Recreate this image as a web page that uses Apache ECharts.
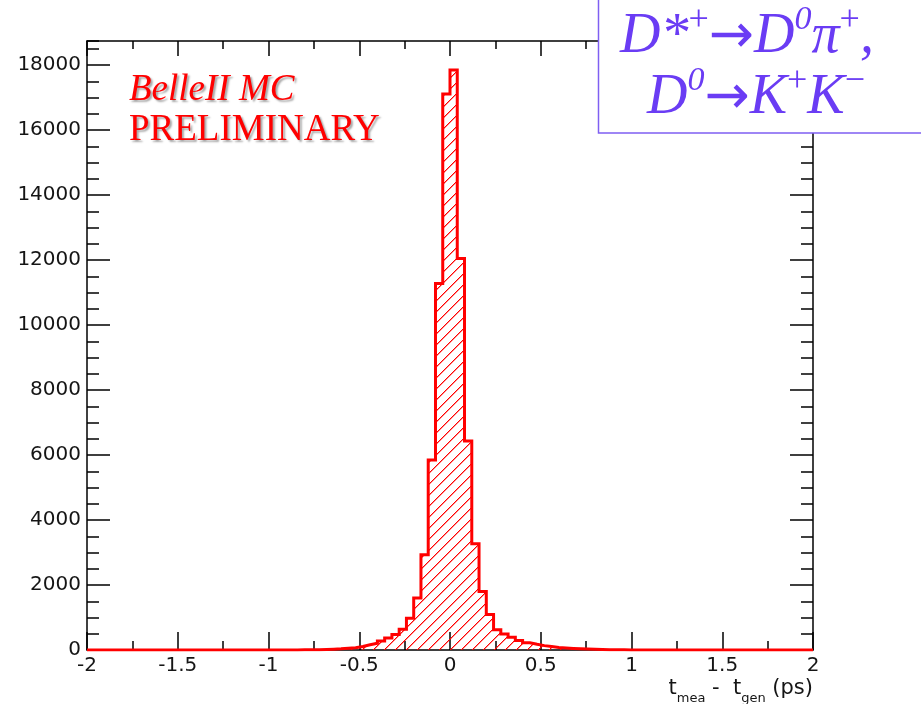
<!DOCTYPE html>
<html><head><meta charset="utf-8">
<script src="https://cdn.jsdelivr.net/npm/echarts@6/dist/echarts.min.js"></script>
<style>html,body{margin:0;padding:0;background:#fff}#chart{width:921px;height:704px}</style>
</head><body><div id="chart"></div>
<script>
// ---- data ----
const binLow = -2;
const binWidth = 0.04;
const counts = [
  0,0,0,0,0,0,0,0,0,0,
  0,0,0,0,0,0,0,0,0,0,
  0,0,0,0,0,0,0,0,2,4,
  7,11,17,25,36,52,72,110,160,210,
  280,370,480,640,980,1600,2930,5850,11280,17110,
  17850,12050,6430,3270,1800,1090,620,490,390,290,
  225,175,135,105,80,62,48,36,27,20,
  14,10,7,5,3,2,0,0,0,0,
  0,0,0,0,0,0,0,0,0,0,
  0,0,0,0,0,0,0,0,0,0
];
const xMin = -2, xMax = 2, xMajor = 0.5, xMinor = 0.25;
const yMin = 0, yMax = 18740, yMajor = 2000, yMinor = 500;
const xTitle = '{t|t}{s|mea}{t| -  t}{s|gen}{t| (ps)}';
const label1 = 'BelleII MC';
const label2 = 'PRELIMINARY';
const decayLine1 = '{m|D}{m|*}{sup|+}{a|\u2192}{m|D}{sup0|0}{m|\u03c0}{sup|+}{m|,}';
const decayLine2 = '{m|D}{sup0|0}{a|\u2192}{m|K}{sup|+}{m|K}{sup|\u2212}';

// ---- build ----
const histData = counts.map((v, i) => [Math.round((binLow + i * binWidth) * 100) / 100, v]);
histData.push([xMax, counts[counts.length - 1]]);

const hatch = document.createElement('canvas');
const hs = 11;
hatch.width = hs; hatch.height = hs;
(function () {
  const c = hatch.getContext('2d');
  c.fillStyle = 'rgba(255,0,0,0.45)';
  for (let i = 0; i < hs; i++) c.fillRect(i, (hs - i) % hs, 1, 1);
  c.fillStyle = '#ff0000';
  for (let i = 0; i < hs; i++) c.fillRect(i, hs - 1 - i, 1, 1);
})();

const black = '#000';
const labelFont = { fontFamily: 'DejaVu Sans', fontSize: 20, color: '#151515' };

function xAx(grid, pos, interval, tickLen, showLine, showLabel, extra) {
  return Object.assign({
    type: 'value', gridIndex: grid, position: pos, min: xMin, max: xMax, interval: interval,
    axisLine: { show: showLine, onZero: false, lineStyle: { color: black, width: 1.5 } },
    axisTick: { show: true, inside: true, length: tickLen, lineStyle: { color: black, width: 1.5 } },
    axisLabel: Object.assign({ show: showLabel, margin: 6, formatter: v => String(v) }, labelFont),
    splitLine: { show: false }
  }, extra || {});
}
function yAx(grid, pos, interval, tickLen, showLine, showLabel) {
  return {
    type: 'value', gridIndex: grid, position: pos, min: yMin, max: yMax, interval: interval,
    axisLine: { show: showLine, onZero: false, lineStyle: { color: black, width: 1.5 } },
    axisTick: { show: true, inside: true, length: tickLen, lineStyle: { color: black, width: 1.5 } },
    axisLabel: Object.assign({ show: showLabel, margin: 6, showMaxLabel: false, formatter: v => String(v) }, labelFont),
    splitLine: { show: false }
  };
}

const gridBox = { left: 87, right: 108, top: 41, bottom: 54, containLabel: false, outerBoundsMode: 'none' };

const option = {
  animation: false,
  backgroundColor: '#fff',
  grid: [Object.assign({}, gridBox), Object.assign({}, gridBox)],
  xAxis: [
    xAx(0, 'bottom', xMajor, 18, true, true, {
      name: xTitle, nameLocation: 'end', nameGap: 0,
      nameTextStyle: {
        align: 'right', verticalAlign: 'top', padding: [28, 0, 0, 0],
        rich: {
          t: { fontFamily: 'DejaVu Sans', fontSize: 21, color: '#151515', lineHeight: 24, verticalAlign: 'top' },
          s: { fontFamily: 'DejaVu Sans', fontSize: 13, color: '#151515', lineHeight: 14, verticalAlign: 'top', padding: [14, 0, 0, 0] }
        }
      }
    }),
    xAx(0, 'top', xMajor, 15, true, false),
    xAx(1, 'bottom', xMinor, 9, false, false),
    xAx(1, 'top', xMinor, 8, false, false)
  ],
  yAxis: [
    yAx(0, 'left', yMajor, 23, true, true),
    yAx(0, 'right', yMajor, 23, true, false),
    yAx(1, 'left', yMinor, 12, false, false),
    yAx(1, 'right', yMinor, 12, false, false)
  ],
  series: [{
    type: 'line',
    xAxisIndex: 0, yAxisIndex: 0,
    data: histData,
    step: 'end',
    symbol: 'none',
    z: 3,
    lineStyle: { color: '#ff0000', width: 3, join: 'miter' },
    areaStyle: { color: { image: hatch, repeat: 'repeat' }, opacity: 1 }
  }],
  graphic: [
    {
      type: 'text', z: 100,
      style: {
        text: label1, x: 129, y: 90, align: 'left', verticalAlign: 'middle',
        font: 'italic 37px "Liberation Serif"', fill: '#ff0000',
        textShadowColor: 'rgba(0,0,0,0.35)', textShadowBlur: 2, textShadowOffsetX: 2, textShadowOffsetY: 2
      }
    },
    {
      type: 'text', z: 100,
      style: {
        text: label2, x: 129, y: 130, align: 'left', verticalAlign: 'middle',
        font: '37px "Liberation Serif"', fill: '#ff0000',
        textShadowColor: 'rgba(0,0,0,0.35)', textShadowBlur: 2, textShadowOffsetX: 2, textShadowOffsetY: 2
      }
    },
    {
      type: 'rect', z: 100,
      shape: { x: 598.5, y: -5, width: 340, height: 138 },
      style: { fill: '#fff', stroke: '#7f5ff2', lineWidth: 1.5 }
    },
    {
      type: 'text', z: 101,
      style: makeDecay(decayLine1, 747, 3)
    },
    {
      type: 'text', z: 101,
      style: makeDecay(decayLine2, 756, 64)
    }
  ]
};

function makeDecay(text, x, y) {
  const purple = '#6a3cf4';
  const fam = '"Liberation Serif", "DejaVu Serif", serif';
  return {
    text: text, x: x, y: y, align: 'center', verticalAlign: 'top', fill: purple,
    rich: {
      m: { fontFamily: fam, fontStyle: 'italic', fontSize: 56, lineHeight: 60, verticalAlign: 'bottom', fill: purple },
      a: { fontFamily: 'DejaVu Sans', fontSize: 54, lineHeight: 62, verticalAlign: 'bottom', fill: purple },
      sup: { fontFamily: fam, fontSize: 36, lineHeight: 36, verticalAlign: 'top', fill: purple },
      sup0: { fontFamily: fam, fontStyle: 'italic', fontSize: 34, lineHeight: 48, verticalAlign: 'top', fill: purple }
    }
  };
}

const chart = echarts.init(document.getElementById('chart'), null, { renderer: 'canvas' });
chart.setOption(option);
</script>
</body></html>
